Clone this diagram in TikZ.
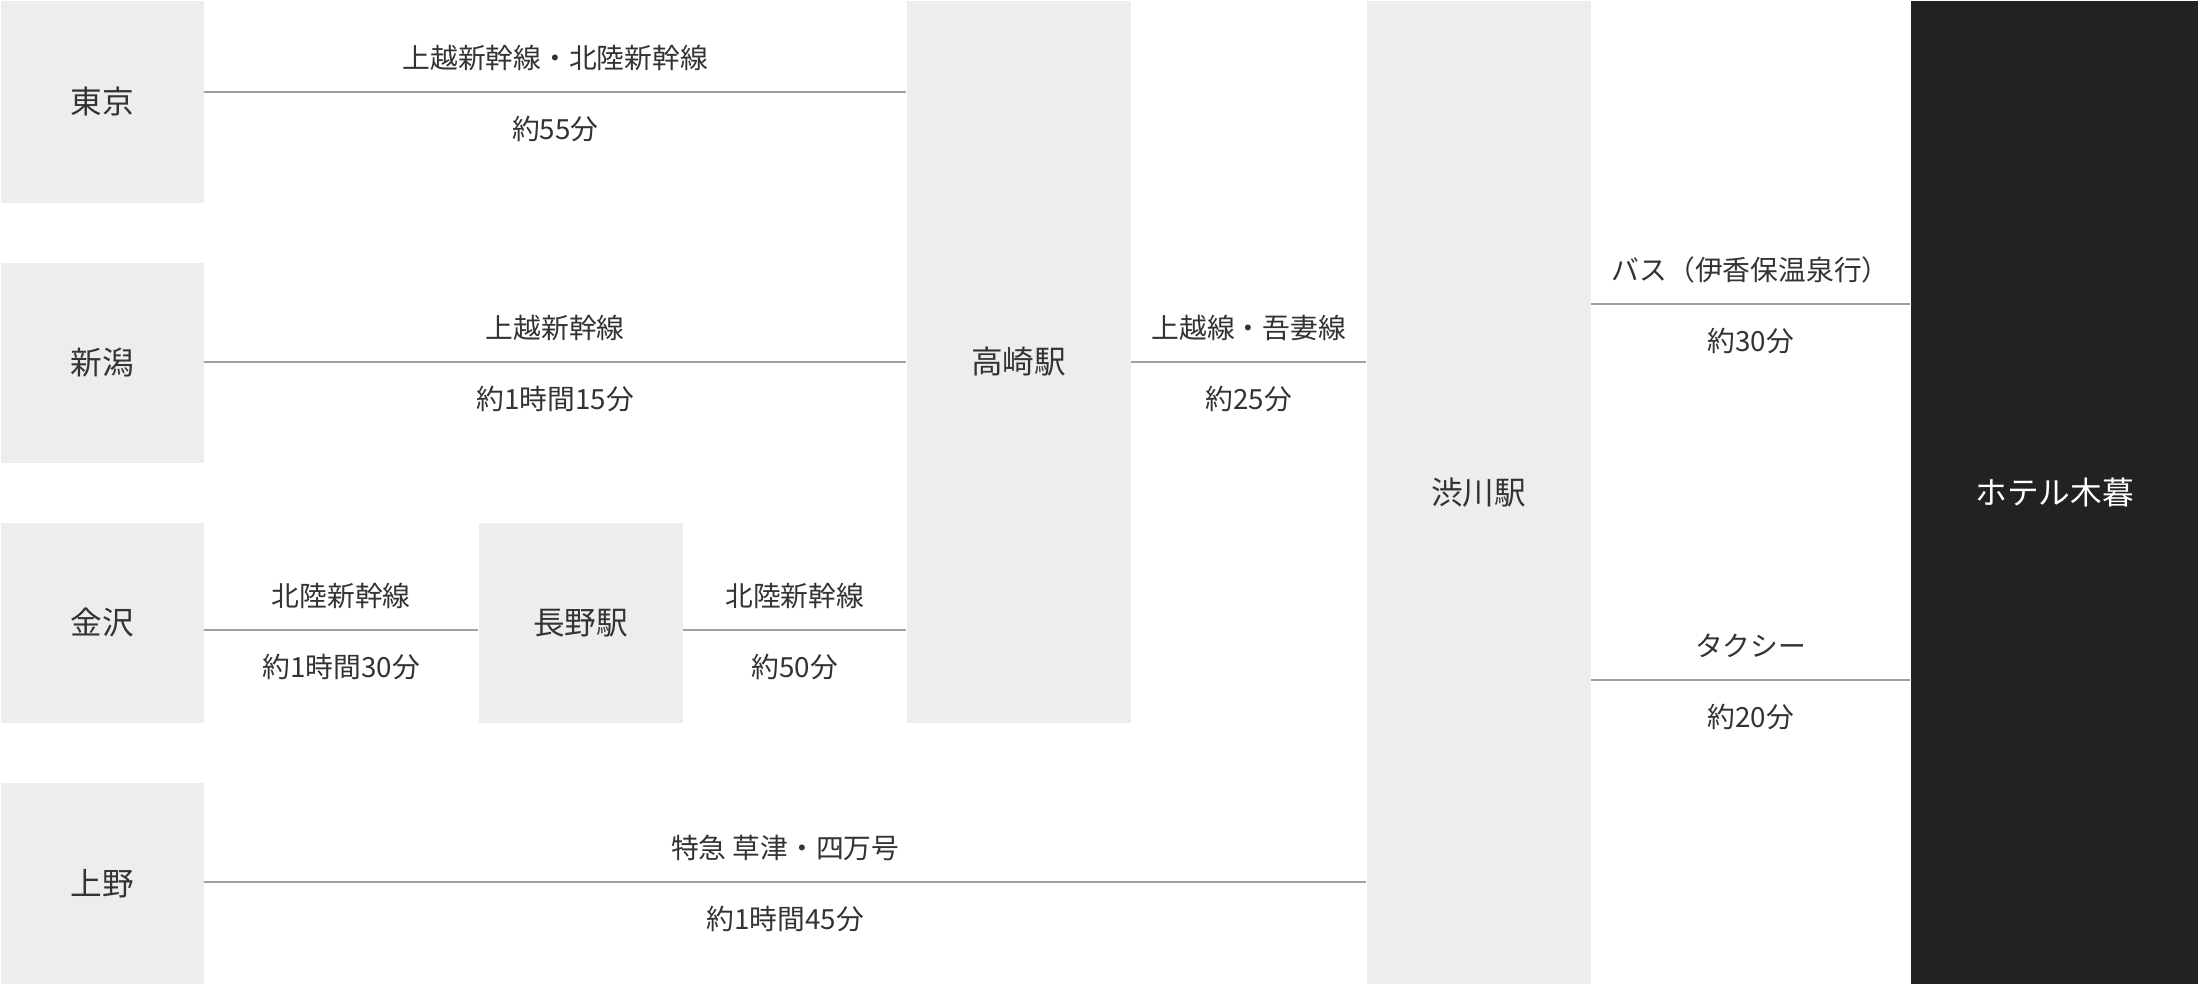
\documentclass[tikz,border=0pt]{standalone}
\usepackage{fontspec}
\setmainfont{Noto Sans CJK JP}

\definecolor{boxgray}{HTML}{EDEDED}
\definecolor{linegray}{HTML}{A0A0A0}
\definecolor{hoteldark}{HTML}{222222}
\definecolor{textdark}{HTML}{333333}

\tikzset{
  station/.style={fill=boxgray, text=textdark, inner sep=0pt, anchor=north west,
    font=\fontsize{9pt}{10pt}\selectfont},
  route/.style={draw=linegray, line width=0.2mm},
  upper/.style={text=textdark, inner sep=0pt, yshift=3.4mm,
    font=\fontsize{7.9pt}{9pt}\selectfont},
  lower/.style={upper, yshift=-7.1mm},
}

\begin{document}
\begin{tikzpicture}[x=0.1mm, y=-0.1mm]

\useasboundingbox [fill=white] (0,0) rectangle (2198,983);

\coordinate (tokyoline) at (0,92);
\coordinate (niigataline) at (0,362);
\coordinate (kanazawaline) at (0,630);
\coordinate (uenoline) at (0,882);
\coordinate (busline) at (0,304);
\coordinate (taxiline) at (0,680);

\node [station, minimum width=20.3mm, minimum height=20.2mm] (tokyo) at (0,0) {東京};
\node [station, minimum width=20.3mm, minimum height=20mm] (niigata) at (0,262) {新潟};
\node [station, minimum width=20.3mm, minimum height=20mm] (kanazawa) at (0,522) {金沢};
\node [station, minimum width=20.3mm, minimum height=20.1mm] (ueno) at (0,782) {上野};
\node [station, minimum width=20.4mm, minimum height=20mm] (nagano) at (478,522) {長野駅};
\node [station, minimum width=22.4mm, minimum height=72.2mm] (takasaki) at (906,0) {高崎駅};
\node [station, minimum width=22.4mm, minimum height=98.3mm] (shibukawa) at (1366,0) {渋川駅};
\node [station, fill=hoteldark, text=white, minimum width=28.8mm, minimum height=98.3mm] (hotel) at (1910,0) {ホテル木暮};

\draw [route] (tokyo.east |- tokyoline) -- node [upper] {上越新幹線・北陸新幹線} node [lower] {約55分} (takasaki.west |- tokyoline);
\draw [route] (niigata.east |- niigataline) -- node [upper] {上越新幹線} node [lower] {約1時間15分} (takasaki.west |- niigataline);
\draw [route] (kanazawa.east |- kanazawaline) -- node [upper] {北陸新幹線} node [lower] {約1時間30分} (nagano.west |- kanazawaline);
\draw [route] (nagano.east |- kanazawaline) -- node [upper] {北陸新幹線} node [lower] {約50分} (takasaki.west |- kanazawaline);
\draw [route] (ueno.east |- uenoline) -- node [upper] {特急 草津・四万号} node [lower] {約1時間45分} (shibukawa.west |- uenoline);
\draw [route] (takasaki.east |- niigataline) -- node [upper] {上越線・吾妻線} node [lower] {約25分} (shibukawa.west |- niigataline);
\draw [route] (shibukawa.east |- busline) -- node [upper] {バス（伊香保温泉行）} node [lower] {約30分} (hotel.west |- busline);
\draw [route] (shibukawa.east |- taxiline) -- node [upper] {タクシー} node [lower] {約20分} (hotel.west |- taxiline);

\end{tikzpicture}
\end{document}
